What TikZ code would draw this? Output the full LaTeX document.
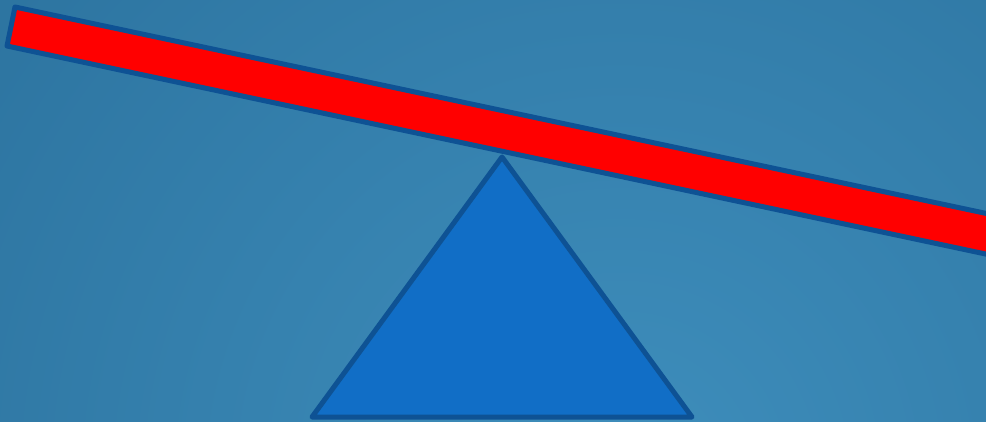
\documentclass[tikz,border=0pt]{standalone}
\usepackage{tikz}
\usetikzlibrary{calc}

\definecolor{bgin}{RGB}{62,142,188}
\definecolor{bgout}{RGB}{36,103,146}
\definecolor{edgeblue}{RGB}{14,82,148}
\definecolor{pivotblue}{RGB}{17,110,198}

\begin{document}
\begin{tikzpicture}[x=0.02cm, y=-0.02cm,
    outline/.style={draw=edgeblue, line width=0.1cm, line join=round},
    beam/.style={outline, fill=red},
    pivot/.style={outline, fill=pivotblue}]

    \useasboundingbox (0,0) rectangle (986,422);
    \clip (0,0) rectangle (986,422);

    % background
    \shade[inner color=bgin, outer color=bgout] (620,480) circle (1200);

    % pivot
    \coordinate (apex) at (502,157);
    \coordinate (baseL) at (312,417);
    \coordinate (baseR) at (692,417);
    \draw[pivot] (apex) -- (baseL) -- (baseR) -- cycle;

    % plank, tilted about 12 degrees
    \coordinate (plankTL) at (15,7);
    \coordinate (plankBL) at (7,46);
    \coordinate (plankTR) at (1042,225.3);
    \coordinate (plankBR) at (1034,264.3);
    \draw[beam] (plankTL) -- (plankTR) -- (plankBR) -- (plankBL) -- cycle;
\end{tikzpicture}
\end{document}
